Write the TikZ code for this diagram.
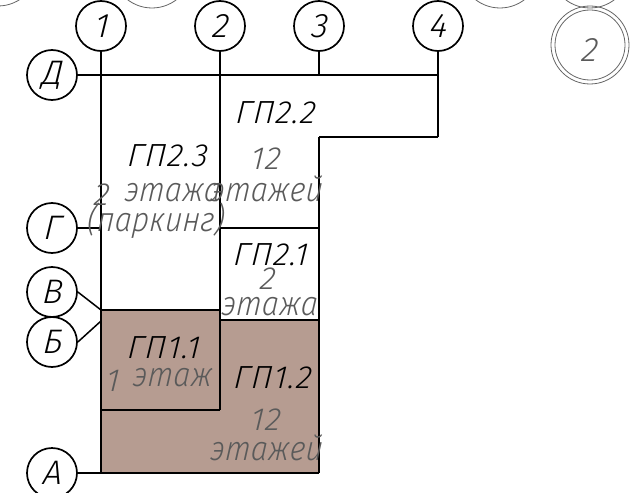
\documentclass[tikz,border=0pt]{standalone}
\usepackage{fontspec}
\setmainfont{Fira Sans Light Italic}[LetterSpace=4,FakeSlant=0.1]
\newfontfamily\subfam{Fira Sans Light Italic}[FakeStretch=0.88,FakeSlant=0.1,LetterSpace=1]
\definecolor{brownfill}{HTML}{B69C91}
\definecolor{greytext}{HTML}{5A5A5A}
\newcommand\axl[1]{\raisebox{-4pt}{#1}}
\tikzset{
  axis/.style={draw=black,line width=1.7pt,circle,minimum size=50pt,inner sep=0pt,font=\fontsize{34}{34}\selectfont,text=black},
  ln/.style={draw=black,line width=1.5pt},
  heavy/.style={draw=black,line width=2pt},
  title/.style={inner sep=0pt,text=black,font=\fontsize{32}{32}\selectfont},
  sub/.style={inner sep=0pt,text=greytext,font=\subfam\fontsize{34}{34}\selectfont},
  num/.style={inner sep=0pt,text=greytext,font=\fontsize{32}{32}\selectfont},
  ghost/.style={draw=black!60,line width=0.8pt,circle,minimum size=80pt,inner sep=0pt}
}
\begin{document}
\begin{tikzpicture}[x=1pt,y=-1pt]
\useasboundingbox (0,0) rectangle (631,492);
\clip (0,0) rectangle (631,492);
\fill[brownfill] (101,310) -- (220,310) -- (220,320) -- (319,320) -- (319,473) -- (101,473) -- cycle;
% ghost circles
\node[ghost] (g1) at (-2,-34) {};
\node[ghost] (g2) at (152,-32) {};
\node[ghost] (g3) at (500,-32) {};
\node[ghost] (g4) at (590,-32) {};
\node[ghost,minimum size=78pt] (d1) at (590,45) {};
\node[ghost,minimum size=70pt] (d3) at (590,45) {};
\node[inner sep=0pt,text=greytext,font=\fontsize{34}{34}\selectfont] (d4t) at (589,50) {2};
% axis bubbles
\node[axis] (a1) at (101,26) {\axl{1}};
\node[axis] (a2) at (220,26) {\axl{2}};
\node[axis] (a3) at (319,26) {\axl{3}};
\node[axis] (a4) at (438,26) {\axl{4}};
\node[axis] (rD) at (52,75) {\axl{Д}};
\node[axis] (rG) at (52,228) {\axl{Г}};
\node[axis] (rV) at (52,292) {\axl{В}};
\node[axis] (rB) at (52,342) {\axl{Б}};
\node[axis] (rA) at (52,473) {\axl{А}};
% junctions
\coordinate (e1) at (101,473);
\coordinate (e2) at (220,410);
\coordinate (e3) at (319,75);
\coordinate (e4) at (438,137);
\coordinate (d4) at (438,75);
\coordinate (s3) at (319,137);
\coordinate (b3) at (319,473);
\coordinate (g1p) at (101,228);
\coordinate (g2p) at (220,228);
\coordinate (g3p) at (319,228);
\coordinate (m2) at (220,320);
\coordinate (m3) at (319,320);
\coordinate (v1) at (101,310);
\coordinate (v2) at (220,310);
\coordinate (b1) at (101,321);
\coordinate (f1) at (101,410);
% lines
\draw[ln] (a1) -- (e1);
\draw[ln] (a2) -- (e2);
\draw[ln] (a3) -- (e3);
\draw[ln] (a4) -- (e4);
\draw[ln] (rD) -- (d4);
\draw[ln] (e4) -- (s3);
\draw[ln] (s3) -- (b3);
\draw[ln] (rG) -- (g1p);
\draw[ln] (g2p) -- (g3p);
\draw[ln] (m2) -- (m3);
\draw[heavy] (v1) -- (v2);
\draw[heavy] (f1) -- (e2);
\draw[ln] (rA) -- (b3);
\draw[ln] (rV.east) -- (v1);
\draw[ln] (rB.east) -- (b1);
% labels
\node[title] (t23) at (167,156) {ГП2.3};
\node[title] (t22) at (275,113) {ГП2.2};
\node[title] (t21) at (270,255) {ГП2.1};
\node[title] (t11) at (163,348) {ГП1.1};
\node[title] (t12) at (272,378) {ГП1.2};
\node[num] (s22a) at (265,159) {12};
\node[sub] (s22b) at (266,189) {этажей};
\node[num] (s23n) at (101,195) {2};
\node[sub] (s23a) at (172,193) {этажа};
\node[sub] (s23b) at (155,221) {(паркинг)};
\node[num] (s21a) at (267,279) {2};
\node[sub] (s21b) at (269,307) {этажа};
\node[num] (s11n) at (112,381) {1};
\node[sub] (s11) at (172,378) {этаж};
\node[num] (s12a) at (265,420) {12};
\node[sub] (s12b) at (266,448) {этажей};
\end{tikzpicture}
\end{document}
